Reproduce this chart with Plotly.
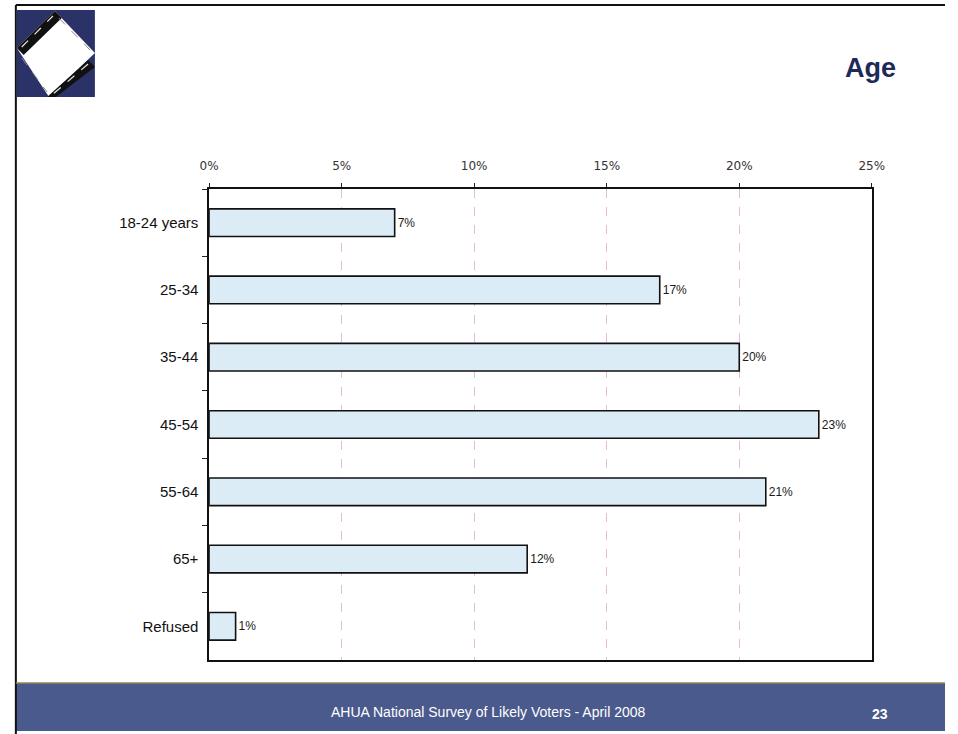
import plotly.graph_objects as go

# Age distribution of likely voters
age_groups = ["18-24 years", "25-34", "35-44", "45-54", "55-64", "65+", "Refused"]
share_pct = [7, 17, 20, 23, 21, 12, 1]
tick_values = [0, 5, 10, 15, 20, 25]
tick_labels = ["0%", "5%", "10%", "15%", "20%", "25%"]

W, H = 958, 734


def px(x):
    return x / W


def py(y):
    return 1 - y / H


def poly(points):
    return "M " + " L ".join(f"{px(x):.5f},{py(y):.5f}" for x, y in points) + " Z"


fig = go.Figure(
    go.Bar(
        x=share_pct,
        y=age_groups,
        orientation="h",
        marker=dict(color="#dcecf6", line=dict(color="#111111", width=1.6)),
        width=0.41,
        text=[f"{v}%" for v in share_pct],
        textposition="outside",
        textfont=dict(family="Arial, Liberation Sans", size=12, color="#1a1a1a"),
        cliponaxis=False,
        hoverinfo="skip",
    )
)

shapes = []
# slide frame
shapes.append(dict(type="line", xref="paper", yref="paper", x0=px(6), x1=1, y0=py(5), y1=py(5),
                   line=dict(color="#111111", width=2)))
shapes.append(dict(type="line", xref="paper", yref="paper", x0=px(6), x1=px(6), y0=py(5), y1=0,
                   line=dict(color="#111111", width=2)))
# footer band
shapes.append(dict(type="rect", xref="paper", yref="paper", x0=px(6), x1=1, y0=py(731), y1=py(683),
                   fillcolor="#4b5a8c", line=dict(width=0), layer="below"))
shapes.append(dict(type="line", xref="paper", yref="paper", x0=px(6), x1=1, y0=py(683), y1=py(683),
                   line=dict(color="#8a8a50", width=1.5)))

# logo: navy square with a tilted film frame
shapes.append(dict(type="rect", xref="paper", yref="paper", x0=px(7), x1=px(87), y0=py(97), y1=py(10),
                   fillcolor="#2b3268", line=dict(width=0)))
shapes.append(dict(type="path", xref="paper", yref="paper",
                   path=poly([(7, 48), (46, 11), (87, 53), (40, 97)]),
                   fillcolor="#ffffff", line=dict(color="#ffffff", width=0)))
shapes.append(dict(type="path", xref="paper", yref="paper",
                   path=poly([(7, 48), (46, 11), (53, 18), (14, 55)]),
                   fillcolor="#111111", line=dict(width=0)))
shapes.append(dict(type="path", xref="paper", yref="paper",
                   path=poly([(80, 60), (87, 67), (47, 97), (38, 97)]),
                   fillcolor="#111111", line=dict(width=0)))
for (x0, y0, x1, y1) in [(12, 47, 44, 16), (80, 64, 43, 95)]:
    shapes.append(dict(type="line", xref="paper", yref="paper", x0=px(x0), y0=py(y0), x1=px(x1), y1=py(y1),
                       line=dict(color="#e8e8e8", width=1.2, dash="dash")))
for (x0, y0, x1, y1) in [(50, 18, 84, 52), (12, 58, 38, 92)]:
    shapes.append(dict(type="line", xref="paper", yref="paper", x0=px(x0), y0=py(y0), x1=px(x1), y1=py(y1),
                       line=dict(color="#888888", width=1, dash="dash")))

fig.update_layout(
    width=W,
    height=H,
    autosize=False,
    margin=dict(l=0, r=0, t=0, b=0),
    paper_bgcolor="#ffffff",
    plot_bgcolor="#ffffff",
    showlegend=False,
    shapes=shapes,
    xaxis=dict(
        domain=[px(204), px(883)],
        range=[0, 25],
        side="top",
        tickvals=tick_values,
        ticktext=tick_labels,
        tickfont=dict(family="Verdana, DejaVu Sans", size=12, color="#333333"),
        ticks="outside",
        ticklen=4,
        tickcolor="#222222",
        ticklabelstandoff=8,
        showline=True,
        linecolor="#111111",
        linewidth=1.5,
        mirror=True,
        showgrid=True,
        gridcolor="rgba(205,120,180,0.5)",
        griddash="dash",
        gridwidth=1,
        zeroline=False,
        fixedrange=True,
    ),
    yaxis=dict(
        domain=[py(660), py(189)],
        categoryorder="array",
        categoryarray=age_groups[::-1],
        tickfont=dict(family="Arial, Liberation Sans", size=15, color="#111111"),
        ticks="outside",
        tickson="boundaries",
        ticklen=5,
        tickcolor="#222222",
        showline=True,
        linecolor="#111111",
        linewidth=1.5,
        mirror=True,
        showgrid=False,
        ticklabelstandoff=6,
        fixedrange=True,
    ),
    annotations=[
        dict(text="<b>Age</b>", xref="paper", yref="paper", x=px(910), y=py(68), xanchor="right",
             yanchor="middle", showarrow=False,
             font=dict(family="Arial, Liberation Sans", size=27, color="#1d2a57")),
        dict(text="AHUA National Survey of Likely Voters - April 2008", xref="paper", yref="paper",
             x=px(490), y=py(712), xanchor="center", yanchor="middle", showarrow=False,
             font=dict(family="Liberation Sans Narrow, Arial Narrow, Arial", size=14, color="#ffffff")),
        dict(text="<b>23</b>", xref="paper", yref="paper", x=px(891), y=py(714), xanchor="center",
             yanchor="middle", showarrow=False,
             font=dict(family="Liberation Sans Narrow, Arial", size=14, color="#ffffff")),
    ],
)

fig.write_html("out.html", config={"responsive": False})
